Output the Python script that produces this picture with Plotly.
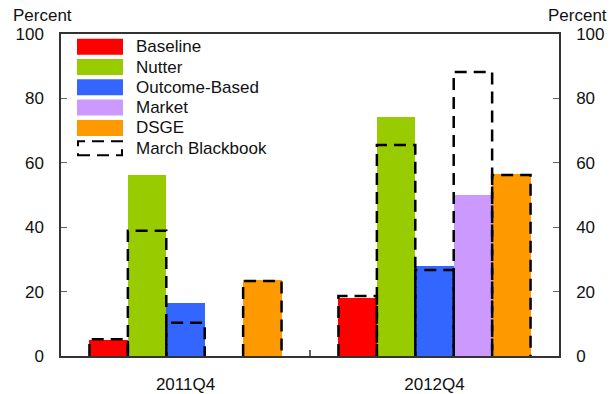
import plotly.graph_objects as go

# ---- data ----
periods = ["2011Q4", "2012Q4"]
models = ["Baseline", "Nutter", "Outcome-Based", "Market", "DSGE"]
colors = ["#FF0000", "#99CC00", "#3366FF", "#CC99FF", "#FF9900"]
values = {
    "Baseline":      [5.0, 17.9],
    "Nutter":        [56.2, 74.1],
    "Outcome-Based": [16.4, 27.9],
    "Market":        [None, 50.0],
    "DSGE":          [23.5, 56.4],
}
blackbook = {
    "Baseline":      [5.2, 18.6],
    "Nutter":        [38.9, 65.5],
    "Outcome-Based": [10.3, 26.7],
    "Market":        [None, 88.2],
    "DSGE":          [23.3, 56.2],
}
yticks = [0, 20, 40, 60, 80, 100]

FONT = "Liberation Sans, Arial, sans-serif"
FS = 17
W = 0.1543  # bar width in category units
n = len(models)

fig = go.Figure()

# filled bars
for i, m in enumerate(models):
    xs = [g + (i - (n - 1) / 2) * W for g in range(len(periods))]
    fig.add_trace(go.Bar(
        x=xs, y=values[m], width=W, marker=dict(color=colors[i], line=dict(width=0)),
        name=m, showlegend=False, hoverinfo="y"))

# dashed "March Blackbook" outlines
dx, dy = [], []
for i, m in enumerate(models):
    for g in range(len(periods)):
        v = blackbook[m][g]
        if v is None:
            continue
        c = g + (i - (n - 1) / 2) * W
        x0, x1 = c - W / 2, c + W / 2
        dx += [x0, x0, x1, x1, None]
        dy += [0, v, v, 0, None]
fig.add_trace(go.Scatter(x=dx, y=dy, mode="lines",
                         line=dict(color="black", width=2.5, dash="12px,7px"),
                         showlegend=False, hoverinfo="skip"))

# invisible trace to activate right axis
fig.add_trace(go.Scatter(x=[0], y=[0], yaxis="y2", mode="markers",
                         marker=dict(opacity=0), showlegend=False, hoverinfo="skip"))

# ---- manual legend ----
legend_names = models + ["March Blackbook"]
plot_l, plot_r, plot_t, plot_b = 61, 559, 34, 356
pw, ph = plot_r - plot_l, plot_b - plot_t
def px(x):
    return (x - plot_l) / pw
def py(y):
    return (plot_b - y) / ph

for k, name in enumerate(legend_names):
    yc = 46.7 + k * 20.3
    if k < n:
        fig.add_shape(type="rect", xref="paper", yref="paper",
                      x0=px(77), x1=px(123), y0=py(yc + 8), y1=py(yc - 8),
                      fillcolor=colors[k], line=dict(width=0))
    else:
        fig.add_shape(type="rect", xref="paper", yref="paper",
                      x0=px(78), x1=px(122), y0=py(yc + 7), y1=py(yc - 7),
                      fillcolor="rgba(0,0,0,0)",
                      line=dict(color="black", width=2, dash="12px,7px"))
    fig.add_annotation(x=px(134), y=py(yc), xref="paper", yref="paper",
                       text=name, showarrow=False, xanchor="left", yanchor="middle",
                       font=dict(size=FS, color="#111", family=FONT))

# Percent labels
for xp in (px(42), px(577)):
    fig.add_annotation(x=xp, y=py(15), xref="paper", yref="paper", text="Percent",
                       showarrow=False, xanchor="center", yanchor="middle",
                       font=dict(size=FS, color="#111", family=FONT))

axis_color = "#333333"
fig.update_layout(
    width=610, height=394,
    margin=dict(l=plot_l, r=610 - plot_r, t=plot_t, b=394 - plot_b, pad=0,
                autoexpand=False),
    paper_bgcolor="white", plot_bgcolor="white",
    barmode="overlay", bargap=0,
    font=dict(family=FONT, size=FS, color="#111"),
    xaxis=dict(range=[-0.5, 1.5], tickmode="array", tickvals=list(range(len(periods))),
               ticktext=periods, ticks="", showgrid=False, zeroline=False,
               showline=True, linecolor=axis_color, linewidth=1.5, mirror=True,
               ticklabelstandoff=12, automargin=False,
               minor=dict(tickmode="array", tickvals=[0.5], ticks="inside",
                          ticklen=6, tickcolor="#666", tickwidth=1.5)),
    yaxis=dict(range=[0, 100], tickvals=yticks, ticks="inside", ticklen=6,
               tickcolor="#666", tickwidth=1, showgrid=False, zeroline=False,
               showline=True, linecolor=axis_color, linewidth=1.5,
               ticklabelstandoff=12, automargin=False),
    yaxis2=dict(range=[0, 100], tickvals=yticks, ticks="inside", ticklen=6,
                tickcolor="#666", tickwidth=1, overlaying="y", side="right",
                showgrid=False, zeroline=False, showline=True,
                linecolor=axis_color, linewidth=1.5, ticklabelstandoff=12,
                automargin=False),
)

fig.write_html("out.html", config={"displayModeBar": False})
with open("out.html", "r", encoding="utf-8") as f:
    html = f.read()
html = html.replace("<head>", "<head><style>html,body{margin:0;padding:0;}</style>", 1)
with open("out.html", "w", encoding="utf-8") as f:
    f.write(html)
